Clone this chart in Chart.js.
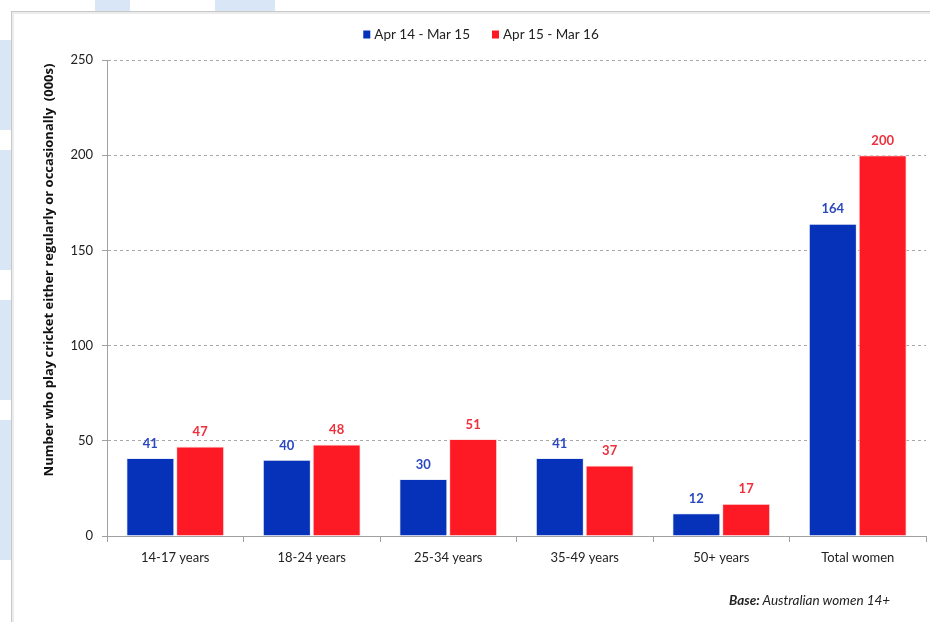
<!DOCTYPE html>
<html>
<head>
<meta charset="utf-8">
<script src="https://cdn.jsdelivr.net/npm/chart.js@4"></script>
<style>
  html, body { margin: 0; padding: 0; background: #ffffff; }
  #wrap { position: relative; width: 930px; height: 622px; overflow: hidden; background: #ffffff; }
  .wm { position: absolute; background: #d9e6f6; }
  #frame { position: absolute; left: 11px; top: 11px; width: 940px; height: 640px; border: 1px solid #c8c8c8; box-shadow: inset 2px 2px 0 #ececec; background: #ffffff; }
  #chartbox { position: absolute; left: 0; top: 0; width: 930px; height: 622px; }
  #base { position: absolute; left: 729px; top: 592px; font-family: Lato, "Liberation Sans", sans-serif; font-size: 13.5px; font-style: italic; color: #222; }
  #base b { font-weight: bold; }
</style>
</head>
<body>
<div id="wrap">
  <div class="wm" style="left:0;top:40px;width:11px;height:90px;"></div>
  <div class="wm" style="left:0;top:150px;width:11px;height:120px;"></div>
  <div class="wm" style="left:0;top:300px;width:11px;height:100px;"></div>
  <div class="wm" style="left:0;top:420px;width:11px;height:140px;"></div>
  <div class="wm" style="left:95px;top:0;width:35px;height:11px;"></div>
  <div class="wm" style="left:215px;top:0;width:60px;height:11px;"></div>
  <div id="frame"></div>
  <div id="chartbox"><canvas id="c" width="930" height="622"></canvas></div>
  <div id="base"><b>Base:</b> Australian women 14+</div>
</div>
<script>
const categories = ["14-17 years", "18-24 years", "25-34 years", "35-49 years", "50+ years", "Total women"];
const seriesNames = ["Apr 14 - Mar 15", "Apr 15 - Mar 16"];
const values2014 = [41, 40, 30, 41, 12, 164];
const values2015 = [47, 48, 51, 37, 17, 200];
const yTicks = [0, 50, 100, 150, 200, 250];
const yTitle = "Number who play cricket either regularly or occasionally  (000s)";

const FONT = 'Lato, "Liberation Sans", sans-serif';
const BLUE = '#0532b8';
const RED = '#fe1a24';
const BLUE_LABEL = '#2a48c0';
const RED_LABEL = '#ee2f3c';

const labelPlugin = {
  id: 'barLabels',
  afterDatasetsDraw(chart) {
    const ctx = chart.ctx;
    ctx.save();
    ctx.font = 'bold 13px ' + FONT;
    ctx.textAlign = 'center';
    ctx.textBaseline = 'bottom';
    chart.data.datasets.forEach((ds, i) => {
      const meta = chart.getDatasetMeta(i);
      ctx.fillStyle = ds.labelColor;
      meta.data.forEach((bar, j) => {
        ctx.fillText(String(ds.data[j]), bar.x, bar.y - 8);
      });
    });
    ctx.restore();
  }
};

const legendPlugin = {
  id: 'customLegend',
  afterDraw(chart) {
    const ctx = chart.ctx;
    ctx.save();
    ctx.font = '13.5px ' + FONT;
    ctx.textBaseline = 'middle';
    const box = 7, gapBox = 4, gapItem = 22, cy = 35, cx = 481;
    const items = chart.data.datasets.map(ds => ({ text: ds.label, color: ds.backgroundColor, w: ctx.measureText(ds.label).width }));
    let total = items.reduce((s, it) => s + box + gapBox + it.w, 0) + gapItem * (items.length - 1);
    let x = cx - total / 2;
    items.forEach(it => {
      ctx.fillStyle = it.color;
      ctx.fillRect(x, cy - box / 2 - 1, box, box + 1);
      ctx.fillStyle = '#222';
      ctx.textAlign = 'left';
      ctx.fillText(it.text, x + box + gapBox, cy);
      x += box + gapBox + it.w + gapItem;
    });
    // rotated y-axis title
    ctx.translate(49, 270);
    ctx.rotate(-Math.PI / 2);
    ctx.font = 'bold 13px "Open Sans", sans-serif';
    ctx.fillStyle = '#111';
    ctx.textAlign = 'center';
    ctx.fillText(yTitle, 0, 0);
    ctx.restore();
  }
};

new Chart(document.getElementById('c'), {
  type: 'bar',
  data: {
    labels: categories,
    datasets: [
      { label: seriesNames[0], data: values2014, backgroundColor: BLUE, borderColor: '#e8ecf8', borderWidth: 1, labelColor: BLUE_LABEL },
      { label: seriesNames[1], data: values2015, backgroundColor: RED, borderColor: '#fbe4e4', borderWidth: 1, labelColor: RED_LABEL }
    ]
  },
  plugins: [labelPlugin, legendPlugin],
  options: {
    responsive: false,
    animation: false,
    devicePixelRatio: 1,
    layout: { padding: { left: 38, right: 4, top: 60, bottom: 0 } },
    datasets: { bar: { categoryPercentage: 0.73, barPercentage: 0.965 } },
    plugins: {
      tooltip: { enabled: false },
      legend: { display: false }
    },
    scales: {
      x: {
        grid: { display: true, drawOnChartArea: false, drawTicks: true, tickLength: 6, color: '#a0a0a0', offset: true },
        border: { display: true, color: '#a0a0a0', width: 1 },
        ticks: { font: { family: FONT, size: 13 }, color: '#222', padding: 8 },
        afterFit(scale) { scale.height = 86; }
      },
      y: {
        min: 0, max: 250,
        afterBuildTicks(scale) { scale.ticks = yTicks.map(v => ({ value: v })); },
        grid: { color: '#a8a8a8', tickLength: 5, tickColor: '#a0a0a0', tickBorderDash: [0, 0], drawTicks: true },
        border: { display: true, color: '#a0a0a0', width: 1, dash: [3, 3] },
        ticks: { font: { family: FONT, size: 13 }, color: '#222', padding: 9 },
        title: { display: false },
        afterFit(scale) { scale.width = 69; }
      }
    }
  }
});
</script>
</body>
</html>
